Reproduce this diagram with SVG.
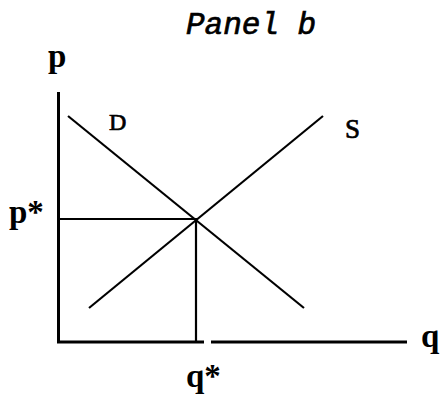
<svg xmlns="http://www.w3.org/2000/svg" width="444" height="396" viewBox="0 0 444 396">
<style>
.ln{stroke:#000;stroke-width:2.2;fill:none;stroke-linecap:butt}
.ax{stroke:#000;stroke-width:3;fill:none}
.tt{font-family:"Liberation Mono","Courier New",monospace;font-style:italic;font-size:31px;fill:#000;stroke:#000;stroke-width:0.7}
.lb{font-family:"Liberation Serif","Times New Roman",serif;font-weight:bold;font-size:33px;fill:#000}
.cv{font-family:"Liberation Serif","Times New Roman",serif;font-size:24px;fill:#000;stroke:#000;stroke-width:0.7}
</style>
<rect width="444" height="396" fill="#fff"/>
<g id="title"><text class="tt" x="186" y="34">Panel b</text></g>
<g id="connectors">
<path class="ax" d="M58.5,92 V342 H204"/>
<path class="ax" d="M211,342 H407"/>
<path class="ln" d="M68,116 L304,308"/>
<path class="ln" d="M89,308 L323,116"/>
<path class="ln" d="M59,219 H196 V342"/>
</g>
<g id="axis-p"><text class="lb" x="48" y="67">p</text></g>
<g id="axis-q"><text class="lb" x="421" y="347">q</text></g>
<g id="label-D"><text class="cv" x="109" y="130">D</text></g>
<g id="label-S"><text class="cv" x="345" y="138" style="font-size:27px">S</text></g>
<g id="label-pstar"><text class="lb" x="9" y="223">p*</text></g>
<g id="label-qstar"><text class="lb" x="186" y="387">q*</text></g>
</svg>
